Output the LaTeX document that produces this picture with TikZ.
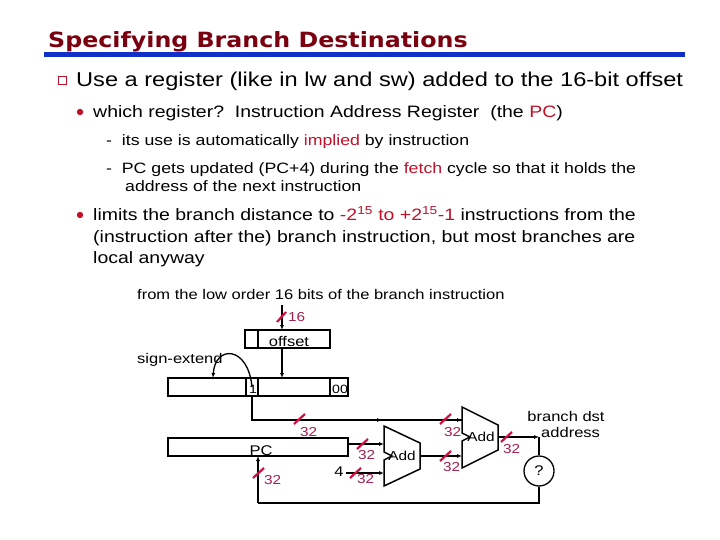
\documentclass[tikz,border=0pt]{standalone}
\usepackage{fontspec}
\setmainfont{Liberation Sans}[FakeStretch=1.18]
\newfontfamily\titlefont{DejaVu Sans}[FakeStretch=1.13]
\usetikzlibrary{arrows.meta}
\definecolor{ttl}{HTML}{7A0010}
\definecolor{hl}{HTML}{C0102A}
\definecolor{bar}{HTML}{1030C8}
\definecolor{slc}{HTML}{D01040}
\definecolor{lbl}{HTML}{A02050}
\begin{document}
\begin{tikzpicture}[x=1pt,y=-1pt,
  wire/.style={line width=1.3pt},
  arr/.style={wire,-{Latex[length=5pt,width=4pt]}},
  reg/.style={draw,line width=1.3pt},
  sl/.style={slc,line width=2.2pt},
  num/.style={lbl,font=\fontsize{13}{13}\selectfont,inner sep=0pt},
  txt/.style={font=\fontsize{14}{14}\selectfont,inner sep=0pt,anchor=west}]
\useasboundingbox (0,0) rectangle (720,540);
% title
\node[ttl,anchor=base west,inner sep=0pt,font=\titlefont\bfseries\fontsize{21}{21}\selectfont] (title) at (48,48) {Specifying Branch Destinations};
\fill[bar] (44,52) rectangle (685,57);
% bullets
\node[draw=hl,fill=white,minimum size=8pt,inner sep=0pt,line width=0.8pt] (b1) at (62,80) {};
\node[anchor=base west,inner sep=0pt,font=\fontsize{20}{20}\selectfont] (l1) at (76,87) {Use a register (like in lw and sw) added to the 16-bit offset};
\fill[hl] (80,112) circle (3.2pt);
\node[anchor=base west,inner sep=0pt,font=\fontsize{16.5}{16.5}\selectfont] (l2) at (93,118) {which register?\ \ Instruction Address Register\ \ (the {\color{hl}PC})};
\begin{scope}[every node/.style={anchor=base west,inner sep=0pt,font=\fontsize{15}{15}\selectfont}]
\node (d1) at (106,146) {-\ \ its use is automatically {\color{hl}implied} by instruction};
\node (d2) at (106,174) {-\ \ PC gets updated (PC+4) during the {\color{hl}fetch} cycle so that it holds the};
\node (d3) at (125,192) {address of the next instruction};
\end{scope}
\fill[hl] (80,215) circle (3.2pt);
\begin{scope}[every node/.style={anchor=base west,inner sep=0pt,font=\fontsize{16.5}{16.5}\selectfont}]
\node (e1) at (93,221) {limits the branch distance to {\color{hl}-2\textsuperscript{15} to +2\textsuperscript{15}-1} instructions from the};
\node (e2) at (93,242) {(instruction after the) branch instruction, but most branches are};
\node (e3) at (93,263) {local anyway};
\end{scope}
% diagram
\node[txt] (from) at (137,294) {from the low order 16 bits of the branch instruction};
\coordinate (fromb) at (282,305);
\draw[reg] (245,330) rectangle (330,348);
\draw[wire] (258,330) -- (258,348);
\node[inner sep=0pt,font=\fontsize{14}{14}\selectfont] (off) at (289,342) {offset};
\coordinate (offtop) at (282,330);
\coordinate (offbot) at (282,348);
\draw[arr] (fromb) -- (offtop);
\draw[sl] (277,322) -- (286,312);
\node[num,anchor=west] (n16) at (288,317) {16};
\draw[reg] (168,378) rectangle (348,396);
\draw[wire] (246,378) -- (246,396) (258,378) -- (258,396) (330,378) -- (330,396);
\node[inner sep=0pt,font=\fontsize{12}{12}\selectfont] (one) at (253,389) {1};
\node[inner sep=0pt,font=\fontsize{12}{12}\selectfont] (zz) at (340,389) {00};
\coordinate (regtop) at (282,378);
\draw[arr] (offbot) -- (regtop);
\node[txt] (se) at (137,360) {sign-extend};
\draw[arr] (252,387) .. controls (248,345) and (215,345) .. (213,378);
% wire sign-ext to Add2
\coordinate (c1) at (252,396);
\coordinate (c2) at (252,420);
\draw[wire] (c1) -- (c2) -- (462,420);
\draw[arr] (c2) -- (382,420);
\draw[arr] (440,420) -- (462,420);
\draw[sl] (294,424) -- (305,414);
\node[num,anchor=west] at (300,432) {32};
\draw[sl] (440,424) -- (451,414);
\node[num,anchor=west] at (444,432) {32};
% PC
\draw[reg] (168,438) rectangle (348,456);
\node[inner sep=0pt,font=\fontsize{14}{14}\selectfont] (pc) at (261,451) {PC};
% Add1
\draw[line width=1.5pt,fill=white] (384,426) -- (420,443) -- (420,469) -- (384,486) -- (384,460) -- (392,456) -- (384,452) -- cycle;
\node[inner sep=0pt,font=\fontsize{13}{13}\selectfont] (add1) at (402,456) {Add};
% Add2
\draw[line width=1.5pt,fill=white] (462,407) -- (498,425) -- (498,450) -- (462,468) -- (462,441) -- (470,437) -- (462,433) -- cycle;
\node[inner sep=0pt,font=\fontsize{13}{13}\selectfont] (add2) at (481,437) {Add};
\draw[arr] (348,444) -- (384,444);
\draw[sl] (357,449) -- (368,439);
\node[num,anchor=west] at (358,455) {32};
\node[inner sep=0pt,font=\fontsize{14}{14}\selectfont] (four) at (339,472) {4};
\draw[arr] (346,473) -- (384,473);
\draw[sl] (350,478) -- (361,468);
\node[num,anchor=west] at (357,479) {32};
\draw[arr] (420,456) -- (462,456);
\draw[sl] (440,461) -- (451,451);
\node[num,anchor=west] at (443,467) {32};
% output
\node[draw,circle,line width=1.3pt,minimum size=30pt,inner sep=0pt,font=\fontsize{14}{14}\selectfont] (q) at (539,471) {?};
\coordinate (o1) at (539,437);
\draw[arr] (498,437) -- (o1);
\draw[wire] (o1) -- (q.north);
\draw[sl] (501,442) -- (512,432);
\node[num,anchor=west] at (503,449) {32};
\node[align=center,inner sep=0pt,font=\fontsize{14}{16}\selectfont] (bda) at (566,424) {branch dst\\\ \ address};
\draw[wire] (q.south) -- (539,503) -- (258,503) coordinate (o2);
\draw[arr] (o2) -- (258,456);
\draw[sl] (253,478) -- (264,468);
\node[num,anchor=west] at (264,480) {32};
\end{tikzpicture}
\end{document}
